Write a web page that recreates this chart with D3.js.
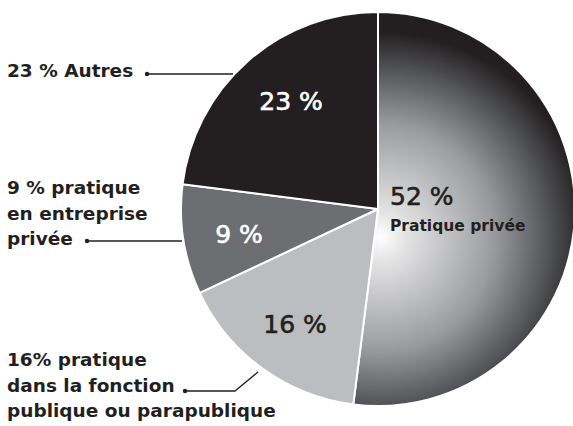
<!DOCTYPE html>
<html><head><meta charset="utf-8">
<script src="https://cdn.jsdelivr.net/npm/d3@7"></script>
<style>html,body{margin:0;padding:0;background:#fff;}svg{display:block;}</style>
</head><body>
<svg id="chart" width="573" height="426"></svg>
<script>
// Data
const categories = ["Pratique privée", "Fonction publique ou parapublique", "Entreprise privée", "Autres"];
const values = [52, 16, 9, 23];
const sliceLabels = ["52 %", "16 %", "9 %", "23 %"];
const calloutLines = [
  ["23 % Autres"],
  ["9 % pratique", "en entreprise", "privée"],
  ["16% pratique", "dans la fonction", "publique ou parapublique"]
];

const ink = "#231f20";
const fills = ["url(#gradPriv)", "#bcbdc0", "#6d6e71", ink];
const labelColors = [ink, ink, "#fff", "#fff"];

const svg = d3.select("#chart");
const cx = 378, cy = 209, R = 197;
const font = "'DejaVu Sans', sans-serif";

const defs = svg.append("defs");
// gradient in the translated pie coordinates
const grad = defs.append("radialGradient").attr("id", "gradPriv")
  .attr("gradientUnits", "userSpaceOnUse")
  .attr("cx", 3).attr("cy", 28).attr("r", 205)
  .attr("fx", 3).attr("fy", 28);
[[0, "#ffffff"], [0.12, "#e4e4e5"], [0.55, "#9a9b9e"], [0.82, "#525356"], [1, "#231f20"]]
  .forEach(([o, c]) => grad.append("stop").attr("offset", o).attr("stop-color", c));

const pie = d3.pie().sort(null).value(d => d)(values);
const arc = d3.arc().innerRadius(0).outerRadius(R);

const g = svg.append("g").attr("transform", `translate(${cx},${cy})`);
g.selectAll("path.slice").data(pie).join("path")
  .attr("class", "slice")
  .attr("d", arc)
  .attr("fill", (d, i) => fills[i])
  .attr("stroke", "#fff").attr("stroke-width", 2).attr("stroke-linejoin", "round");

// slice labels
const labelPos = [
  {x: 390 - cx, y: 205 - cy, anchor: "start"},
  {x: 295 - cx, y: 333 - cy, anchor: "middle"},
  {x: 239 - cx, y: 243 - cy, anchor: "middle"},
  {x: 291 - cx, y: 110 - cy, anchor: "middle"}
];
g.selectAll("text.pct").data(pie).join("text")
  .attr("class", "pct")
  .attr("x", (d, i) => labelPos[i].x)
  .attr("y", (d, i) => labelPos[i].y)
  .attr("text-anchor", (d, i) => labelPos[i].anchor)
  .attr("font-family", font).attr("font-weight", 400).attr("font-size", 25)
  .attr("fill", (d, i) => labelColors[i])
  .attr("stroke", (d, i) => labelColors[i]).attr("stroke-width", 0.6)
  .text((d, i) => sliceLabels[i]);

g.append("text")
  .attr("x", 390 - cx).attr("y", 231 - cy)
  .attr("font-family", font).attr("font-weight", 700).attr("font-size", 15.5)
  .attr("fill", ink)
  .text(categories[0]);

// Callouts
const calloutPos = [
  {x: 7, y: 77, lh: 25.5},
  {x: 7, y: 194, lh: 25.5},
  {x: 7, y: 366, lh: 25.5}
];
calloutLines.forEach((lines, k) => {
  const t = svg.append("text")
    .attr("font-family", font).attr("font-weight", 700).attr("font-size", 18.5)
    .attr("fill", ink);
  lines.forEach((ln, j) => {
    t.append("tspan").attr("x", calloutPos[k].x).attr("y", calloutPos[k].y + j * calloutPos[k].lh).text(ln);
  });
});

// leader lines
const leaders = [
  [[147, 74], [233, 74]],
  [[87, 241], [182, 241]],
  [[185, 391], [235, 391], [258, 372]]
];
leaders.forEach(pts => {
  svg.append("path").attr("d", d3.line()(pts))
    .attr("fill", "none").attr("stroke", ink).attr("stroke-width", 1.3);
  svg.append("circle").attr("cx", pts[0][0]).attr("cy", pts[0][1]).attr("r", 2.2).attr("fill", ink);
});
</script>
</body></html>
